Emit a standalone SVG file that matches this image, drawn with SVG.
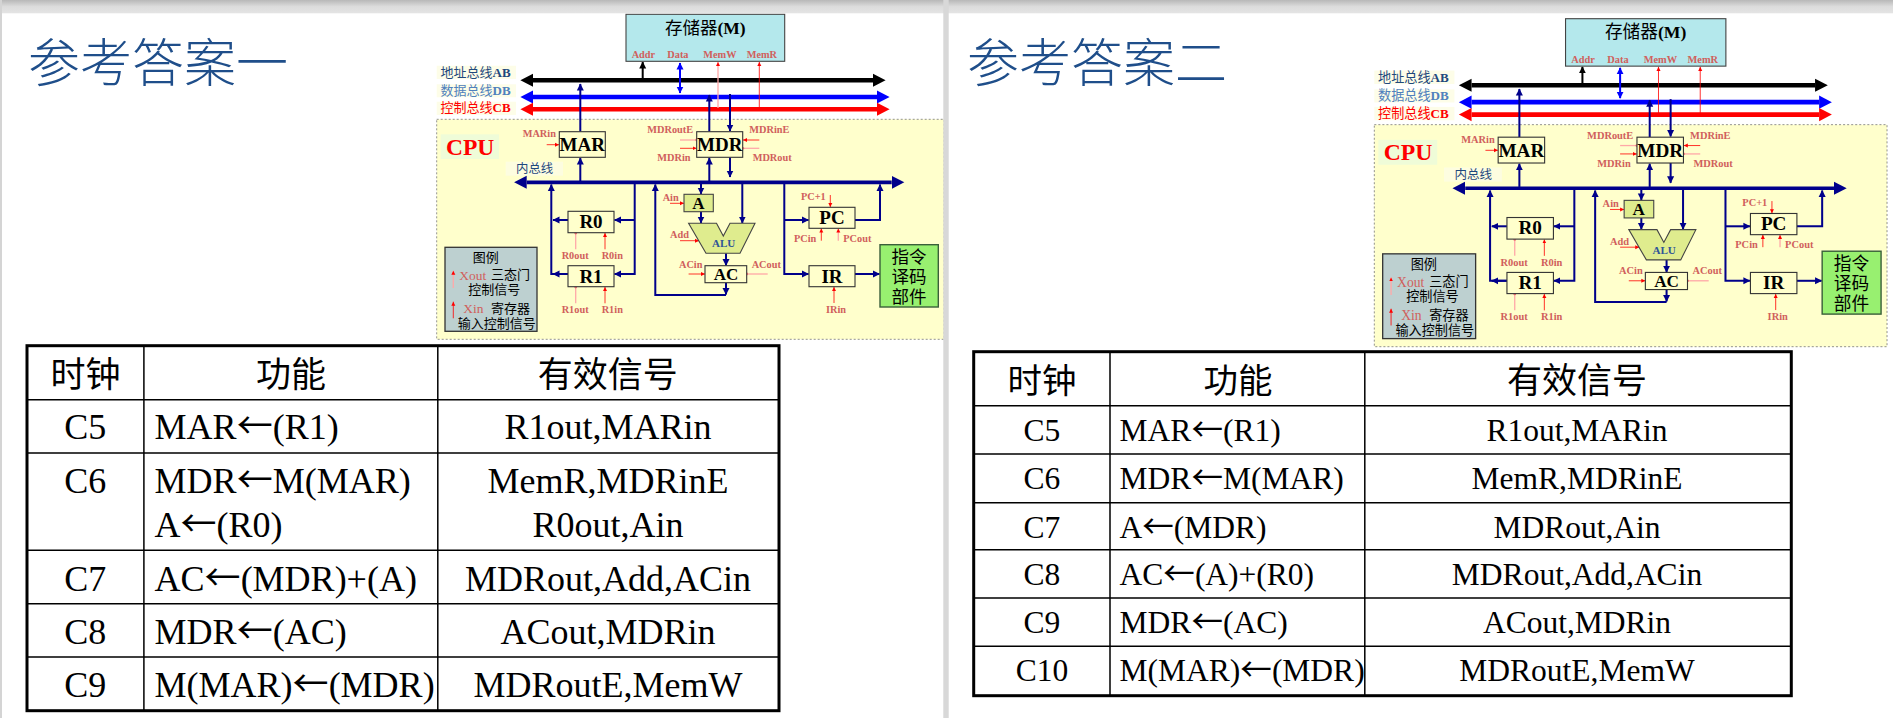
<svg xmlns="http://www.w3.org/2000/svg" width="1893" height="718" viewBox="0 0 1893 718">
<style>
text{font-family:"Liberation Serif","Noto Sans CJK SC",serif}
.cjk{font-family:"Noto Sans CJK SC",sans-serif}
.ar{font-family:"Noto Sans CJK SC",sans-serif}
.title{font-family:"Noto Sans CJK SC",sans-serif;font-size:52px;fill:#1f4e8a;font-weight:300}
.busl{font-size:13px;font-weight:700}
.busl .cjk{font-weight:400}
.sig{font-size:10.3px;font-weight:700;fill:#d0605c}
.reg{font-size:19px;font-weight:700;fill:#000;text-anchor:middle}
.reg2{font-size:17px}
.leg{font-size:13px;fill:#000;font-family:"Noto Sans CJK SC",sans-serif}
.legs{font-size:13.5px;fill:#d0605c}
.box{fill:#ffffcc;stroke:#333;stroke-width:1.1}
.green{fill:#dfec8e;stroke:#444;stroke-width:1.1}
.lab{stroke:none}
.n{fill:none;stroke:#00008b;stroke-width:2}
.r{fill:none;stroke:#f00;stroke-width:.8;marker-end:url(#hr)}
.p{fill:none;stroke:#ffa8a8;stroke-width:1.3;marker-start:url(#dot)}
.pu{fill:none;stroke:#ffa8a8;stroke-width:1.3;marker-end:url(#hr)}
.cell{font-size:36px;fill:#000}
.cell2{font-size:31.5px;fill:#000}
.mid{text-anchor:middle}
.head{font-family:"Noto Sans CJK SC",sans-serif;fill:#000;text-anchor:middle}
.tb{stroke:#000;stroke-width:1.5;fill:none}
.to{stroke:#000;stroke-width:3;fill:none}
</style>
<defs>
<marker id="hn" markerUnits="userSpaceOnUse" markerWidth="8" markerHeight="8" refX="6.5" refY="4" orient="auto-start-reverse"><path d="M0,.5 L7,4 L0,7.5 Z" fill="#00008b"/></marker>
<marker id="hk" markerUnits="userSpaceOnUse" markerWidth="8" markerHeight="8" refX="6.5" refY="4" orient="auto-start-reverse"><path d="M0,.5 L7,4 L0,7.5 Z" fill="#000"/></marker>
<marker id="hb" markerUnits="userSpaceOnUse" markerWidth="8" markerHeight="8" refX="6.5" refY="4" orient="auto-start-reverse"><path d="M0,.5 L7,4 L0,7.5 Z" fill="#00f"/></marker>
<marker id="hr" markerUnits="userSpaceOnUse" markerWidth="6" markerHeight="6" refX="4" refY="3" orient="auto"><path d="M0,1 L4,3 L0,5 Z" fill="#f00"/></marker>
<marker id="dot" markerUnits="userSpaceOnUse" markerWidth="4" markerHeight="4" refX="2" refY="2"><circle cx="2" cy="2" r="1.4" fill="#f07070"/></marker>
<marker id="bk" markerUnits="userSpaceOnUse" markerWidth="14" markerHeight="14" refX="0" refY="7" orient="auto-start-reverse"><path d="M0,.5 L12.6,7 L0,13.5 Z" fill="#000"/></marker>
<marker id="bb" markerUnits="userSpaceOnUse" markerWidth="14" markerHeight="14" refX="0" refY="7" orient="auto-start-reverse"><path d="M0,.5 L12.6,7 L0,13.5 Z" fill="#00f"/></marker>
<marker id="br" markerUnits="userSpaceOnUse" markerWidth="14" markerHeight="14" refX="0" refY="7" orient="auto-start-reverse"><path d="M0,.5 L12.6,7 L0,13.5 Z" fill="#f00"/></marker>
<marker id="bn" markerUnits="userSpaceOnUse" markerWidth="14" markerHeight="14" refX="0" refY="7" orient="auto-start-reverse"><path d="M0,.5 L12.6,7 L0,13.5 Z" fill="#00008b"/></marker>
<linearGradient id="band" x1="0" y1="0" x2="0" y2="1"><stop offset="0" stop-color="#b8b8b8"/><stop offset=".5" stop-color="#dcdcdc"/><stop offset="1" stop-color="#e4e4e4"/></linearGradient>
</defs>
<rect width="1893" height="718" fill="#fff"/>

<text class="title" x="28" y="82">参考答案一</text>
<text class="title" x="967" y="82">参考答案二</text>

<g id="panel1">
<rect id="p1-cpu-area" x="436.7" y="119.3" width="507.5" height="220" fill="#ffc" stroke="#777" stroke-width=".8" stroke-dasharray="2 2"/>
<g id="p1-labels">
<rect class="lab" x="436.7" y="65.7" width="79.3" height="13.3" fill="#fdfde8"/>
<rect class="lab" x="436.7" y="84.3" width="79.3" height="13" fill="#fdfde8"/>
<rect class="lab" x="436.7" y="101.7" width="79.3" height="13.3" fill="#fdfde8"/>
<text class="busl" x="440.5" y="76.7" fill="#1f497d"><tspan class="cjk">地址总线</tspan>AB</text>
<text class="busl" x="440.5" y="95" fill="#4f81bd"><tspan class="cjk">数据总线</tspan>DB</text>
<text class="busl" x="440.5" y="112.3" fill="#f00"><tspan class="cjk">控制总线</tspan>CB</text>
<rect class="lab" x="440.7" y="134.3" width="58.3" height="24.7" fill="#effcd8"/>
<text x="446" y="154.5" font-size="23.5" font-weight="700" fill="#f00">CPU</text>
<rect class="lab" x="505.7" y="161.7" width="57.3" height="14" fill="#fdfde0"/>
<text class="cjk" x="516" y="173" font-size="12.4" fill="#1f497d">内总线</text>
</g>
<g id="p1-connectors">
<line x1="533" y1="80.3" x2="873" y2="80.3" stroke="#000" stroke-width="4.4" marker-start="url(#bk)" marker-end="url(#bk)"/>
<line x1="533" y1="97" x2="877" y2="97" stroke="#00f" stroke-width="4.6" marker-start="url(#bb)" marker-end="url(#bb)"/>
<line x1="533" y1="109.3" x2="877" y2="109.3" stroke="#f00" stroke-width="4.6" marker-start="url(#br)" marker-end="url(#br)"/>
<line x1="526.7" y1="182.3" x2="891.7" y2="182.3" stroke="#00008b" stroke-width="3.7" marker-start="url(#bn)" marker-end="url(#bn)"/>
<line x1="642.7" y1="80" x2="642.7" y2="62" stroke="#000" stroke-width="2" marker-end="url(#hk)"/>
<line x1="680" y1="63" x2="680" y2="93" stroke="#00f" stroke-width="2" marker-start="url(#hb)" marker-end="url(#hb)"/>
<path class="pu" d="M718,108 V62"/>
<path class="r" d="M759.3,108 V62"/>
<path class="n" d="M580.3,131.7 V84" marker-end="url(#hn)"/>
<path class="n" d="M709.3,131.7 V95" marker-end="url(#hn)"/>
<path class="n" d="M730,94 V131" marker-end="url(#hn)"/>
<path class="n" d="M580.3,181 V158" marker-end="url(#hn)"/>
<path class="n" d="M709.3,181 V158" marker-end="url(#hn)"/>
<path class="n" d="M730,157.3 V177" marker-end="url(#hn)"/>
<path class="n" d="M568,220 H553" marker-end="url(#hn)"/>
<path class="n" d="M568,274 H553" marker-end="url(#hn)"/>
<path class="n" d="M568,274 H551.3 V184.5" marker-end="url(#hn)"/>
<path class="n" d="M634.7,184 V274 H614.5" marker-end="url(#hn)"/>
<path class="n" d="M634.7,220 H614.5" marker-end="url(#hn)"/>
<path class="n" d="M726,295 H655.3 V184.5" marker-end="url(#hn)"/>
<path class="n" d="M726,282.7 V294.5" marker-end="url(#hn)"/>
<path class="n" d="M701,184 V194" marker-end="url(#hn)"/>
<path class="n" d="M701,211.7 V223" marker-end="url(#hn)"/>
<path class="n" d="M742.3,184 V223" marker-end="url(#hn)"/>
<path class="n" d="M726,253.3 V265.5" marker-end="url(#hn)"/>
<path class="n" d="M784.3,184 V274 H808.5" marker-end="url(#hn)"/>
<path class="n" d="M784.3,220 H808.5" marker-end="url(#hn)"/>
<path class="n" d="M855,220 H880 V184.5" marker-end="url(#hn)"/>
<path class="n" d="M855,274 H879.5" marker-end="url(#hn)"/>
<path class="r" d="M546.7,144.7 H559"/>
<path class="p" d="M696.7,140 H680"/>
<path class="r" d="M680,148.3 H696.5"/>
<path class="r" d="M759.3,140 H743"/>
<path class="p" d="M742.7,148.3 H759.3"/>
<path class="p" d="M575.7,233 V249.3"/>
<path class="r" d="M605,249.3 V233"/>
<path class="p" d="M575.7,287 V303.3"/>
<path class="r" d="M605,303.3 V287"/>
<path class="r" d="M670,203.3 H684"/>
<path class="r" d="M680,240.7 H699"/>
<path class="r" d="M688.6,274 H705"/>
<path class="p" d="M746.7,274 H767.7"/>
<path class="r" d="M830.3,195 V207"/>
<path class="r" d="M821.3,240.7 V228.5"/>
<path class="pu" d="M838.3,240.7 V228.5"/>
<path class="r" d="M834,303 V287"/>
</g>
<g id="p1-memory">
<rect x="626" y="14.3" width="158.7" height="47" fill="#b4e8ec" stroke="#444" stroke-width="1.1"/>
<text x="665" y="33.5" font-size="17.5" font-weight="700" fill="#000"><tspan class="cjk" font-weight="400">存储器</tspan>(M)</text>
<text class="sig" x="631.7" y="58.3">Addr</text><text class="sig" x="667.3" y="58.3">Data</text><text class="sig" x="703.3" y="58.3">MemW</text><text class="sig" x="746.7" y="58.3">MemR</text>
</g>
<g id="p1-MAR"><rect class="box" x="559.3" y="131.7" width="46" height="25.6"/><text class="reg" x="582.3" y="151">MAR</text><text class="sig" x="522.7" y="137">MARin</text></g>
<g id="p1-MDR"><rect class="box" x="696.7" y="131.7" width="46" height="25.6"/><text class="reg" x="719.7" y="151">MDR</text><text class="sig" x="647.3" y="133.3">MDRoutE</text><text class="sig" x="657.3" y="161.3">MDRin</text><text class="sig" x="749.3" y="133.3">MDRinE</text><text class="sig" x="752.7" y="161.3">MDRout</text></g>
<g id="p1-R0"><rect class="box" x="568" y="211.3" width="46" height="21.4"/><text class="reg" x="591" y="228">R0</text><text class="sig" x="561.7" y="259">R0out</text><text class="sig" x="601.7" y="259">R0in</text></g>
<g id="p1-R1"><rect class="box" x="568" y="265.7" width="46" height="21"/><text class="reg" x="591" y="282.5">R1</text><text class="sig" x="561.7" y="313.3">R1out</text><text class="sig" x="601.7" y="313.3">R1in</text></g>
<g id="p1-A"><rect class="green" x="684" y="194.3" width="29.3" height="17.4"/><text class="reg reg2" x="698.5" y="208.5">A</text><text class="sig" x="662.7" y="200.7">Ain</text></g>
<g id="p1-ALU"><polygon class="green" points="688.6,223.3 716.5,223.3 723.3,236 730,223.3 755,223.3 740,253.3 706,253.3"/><text x="712" y="247.3" font-size="11" font-weight="700" fill="#2f5597">ALU</text><text class="sig" x="670" y="238.3">Add</text></g>
<g id="p1-AC"><rect class="box" x="705" y="265.7" width="41.7" height="17"/><text class="reg reg2" x="726" y="280.3">AC</text><text class="sig" x="679" y="267.7">ACin</text><text class="sig" x="751.7" y="267.7">ACout</text></g>
<g id="p1-PC"><rect class="box" x="809" y="207.3" width="46" height="21"/><text class="reg" x="832" y="223.8">PC</text><text class="sig" x="801" y="200">PC+1</text><text class="sig" x="794" y="241.7">PCin</text><text class="sig" x="843.3" y="241.7">PCout</text></g>
<g id="p1-IR"><rect class="box" x="809" y="265.7" width="46" height="21"/><text class="reg" x="832" y="282.5">IR</text><text class="sig" x="826" y="312.7">IRin</text></g>
<g id="p1-decoder"><rect x="880" y="244.7" width="58.3" height="62.3" fill="#98f070" stroke="#3a5f3a" stroke-width="1.4"/><text class="cjk mid" x="909" y="263.3" font-size="17.5">指令</text><text class="cjk mid" x="909" y="283.3" font-size="17.5">译码</text><text class="cjk mid" x="909" y="302.7" font-size="17.5">部件</text></g>
<g id="p1-legend"><rect x="445" y="247.3" width="92" height="84" fill="#bdd0d0" stroke="#333" stroke-width="1.3"/><text class="leg" x="472.7" y="262">图例</text><path class="pu" d="M453.3,288 V270.7"/><text class="legs" x="459.3" y="280">Xout</text><text class="leg" x="491" y="279">三态门</text><text class="leg" x="468.3" y="294">控制信号</text><path class="r" d="M453.3,318.3 V301.7"/><text class="legs" x="463.3" y="313.3">Xin</text><text class="leg" x="491" y="313">寄存器</text><text class="leg" x="457.7" y="327.7">输入控制信号</text></g>
</g>

<g id="separators">
<rect x="0" y="0" width="1893" height="13.3" fill="url(#band)"/>
<rect x="0" y="0" width="2" height="718" fill="#d4d4d4"/>
<rect x="943.3" y="0" width="5.4" height="718" fill="#d8d8d8"/>
</g>

<g id="panel2" transform="matrix(1.0103 0 0 1.0092 933.1 4.27)">
<rect id="p2-cpu-area" x="436.7" y="119.3" width="507.5" height="220" fill="#ffc" stroke="#777" stroke-width=".8" stroke-dasharray="2 2"/>
<g id="p2-labels">
<rect class="lab" x="436.7" y="65.7" width="79.3" height="13.3" fill="#fdfde8"/>
<rect class="lab" x="436.7" y="84.3" width="79.3" height="13" fill="#fdfde8"/>
<rect class="lab" x="436.7" y="101.7" width="79.3" height="13.3" fill="#fdfde8"/>
<text class="busl" x="440.5" y="76.7" fill="#1f497d"><tspan class="cjk">地址总线</tspan>AB</text>
<text class="busl" x="440.5" y="95" fill="#4f81bd"><tspan class="cjk">数据总线</tspan>DB</text>
<text class="busl" x="440.5" y="112.3" fill="#f00"><tspan class="cjk">控制总线</tspan>CB</text>
<rect class="lab" x="440.7" y="134.3" width="58.3" height="24.7" fill="#effcd8"/>
<text x="446" y="154.5" font-size="23.5" font-weight="700" fill="#f00">CPU</text>
<rect class="lab" x="505.7" y="161.7" width="57.3" height="14" fill="#fdfde0"/>
<text class="cjk" x="516" y="173" font-size="12.4" fill="#1f497d">内总线</text>
</g>
<g id="p2-connectors">
<line x1="533" y1="80.3" x2="873" y2="80.3" stroke="#000" stroke-width="4.4" marker-start="url(#bk)" marker-end="url(#bk)"/>
<line x1="533" y1="97" x2="877" y2="97" stroke="#00f" stroke-width="4.6" marker-start="url(#bb)" marker-end="url(#bb)"/>
<line x1="533" y1="109.3" x2="877" y2="109.3" stroke="#f00" stroke-width="4.6" marker-start="url(#br)" marker-end="url(#br)"/>
<line x1="526.7" y1="182.3" x2="891.7" y2="182.3" stroke="#00008b" stroke-width="3.7" marker-start="url(#bn)" marker-end="url(#bn)"/>
<line x1="642.7" y1="80" x2="642.7" y2="62" stroke="#000" stroke-width="2" marker-end="url(#hk)"/>
<line x1="680" y1="63" x2="680" y2="93" stroke="#00f" stroke-width="2" marker-start="url(#hb)" marker-end="url(#hb)"/>
<path class="r" d="M718,108 V62"/>
<path class="r" d="M759.3,108 V62"/>
<path class="n" d="M580.3,131.7 V84" marker-end="url(#hn)"/>
<path class="n" d="M709.3,131.7 V95" marker-end="url(#hn)"/>
<path class="n" d="M730,94 V131" marker-end="url(#hn)"/>
<path class="n" d="M580.3,181 V158" marker-end="url(#hn)"/>
<path class="n" d="M709.3,181 V158" marker-end="url(#hn)"/>
<path class="n" d="M730,157.3 V177" marker-end="url(#hn)"/>
<path class="n" d="M568,220 H553" marker-end="url(#hn)"/>
<path class="n" d="M568,274 H553" marker-end="url(#hn)"/>
<path class="n" d="M568,274 H551.3 V184.5" marker-end="url(#hn)"/>
<path class="n" d="M634.7,184 V274 H614.5" marker-end="url(#hn)"/>
<path class="n" d="M634.7,220 H614.5" marker-end="url(#hn)"/>
<path class="n" d="M726,295 H655.3 V184.5" marker-end="url(#hn)"/>
<path class="n" d="M726,282.7 V294.5" marker-end="url(#hn)"/>
<path class="n" d="M701,184 V194" marker-end="url(#hn)"/>
<path class="n" d="M701,211.7 V223" marker-end="url(#hn)"/>
<path class="n" d="M742.3,184 V223" marker-end="url(#hn)"/>
<path class="n" d="M726,253.3 V265.5" marker-end="url(#hn)"/>
<path class="n" d="M784.3,184 V274 H808.5" marker-end="url(#hn)"/>
<path class="n" d="M784.3,220 H808.5" marker-end="url(#hn)"/>
<path class="n" d="M855,220 H880 V184.5" marker-end="url(#hn)"/>
<path class="n" d="M855,274 H879.5" marker-end="url(#hn)"/>
<path class="r" d="M546.7,144.7 H559"/>
<path class="p" d="M696.7,140 H680"/>
<path class="r" d="M680,148.3 H696.5"/>
<path class="r" d="M759.3,140 H743"/>
<path class="p" d="M742.7,148.3 H759.3"/>
<path class="p" d="M575.7,233 V249.3"/>
<path class="r" d="M605,249.3 V233"/>
<path class="p" d="M575.7,287 V303.3"/>
<path class="r" d="M605,303.3 V287"/>
<path class="r" d="M670,203.3 H684"/>
<path class="r" d="M680,240.7 H699"/>
<path class="r" d="M688.6,274 H705"/>
<path class="p" d="M746.7,274 H767.7"/>
<path class="r" d="M830.3,195 V207"/>
<path class="r" d="M821.3,240.7 V228.5"/>
<path class="pu" d="M838.3,240.7 V228.5"/>
<path class="r" d="M834,303 V287"/>
</g>
<g id="p2-memory">
<rect x="626" y="14.3" width="158.7" height="47" fill="#b4e8ec" stroke="#444" stroke-width="1.1"/>
<text x="665" y="33.5" font-size="17.5" font-weight="700" fill="#000"><tspan class="cjk" font-weight="400">存储器</tspan>(M)</text>
<text class="sig" x="631.7" y="58.3">Addr</text><text class="sig" x="667.3" y="58.3">Data</text><text class="sig" x="703.3" y="58.3">MemW</text><text class="sig" x="746.7" y="58.3">MemR</text>
</g>
<g id="p2-MAR"><rect class="box" x="559.3" y="131.7" width="46" height="25.6"/><text class="reg" x="582.3" y="151">MAR</text><text class="sig" x="522.7" y="137">MARin</text></g>
<g id="p2-MDR"><rect class="box" x="696.7" y="131.7" width="46" height="25.6"/><text class="reg" x="719.7" y="151">MDR</text><text class="sig" x="647.3" y="133.3">MDRoutE</text><text class="sig" x="657.3" y="161.3">MDRin</text><text class="sig" x="749.3" y="133.3">MDRinE</text><text class="sig" x="752.7" y="161.3">MDRout</text></g>
<g id="p2-R0"><rect class="box" x="568" y="211.3" width="46" height="21.4"/><text class="reg" x="591" y="228">R0</text><text class="sig" x="561.7" y="259">R0out</text><text class="sig" x="601.7" y="259">R0in</text></g>
<g id="p2-R1"><rect class="box" x="568" y="265.7" width="46" height="21"/><text class="reg" x="591" y="282.5">R1</text><text class="sig" x="561.7" y="313.3">R1out</text><text class="sig" x="601.7" y="313.3">R1in</text></g>
<g id="p2-A"><rect class="green" x="684" y="194.3" width="29.3" height="17.4"/><text class="reg reg2" x="698.5" y="208.5">A</text><text class="sig" x="662.7" y="200.7">Ain</text></g>
<g id="p2-ALU"><polygon class="green" points="688.6,223.3 716.5,223.3 723.3,236 730,223.3 755,223.3 740,253.3 706,253.3"/><text x="712" y="247.3" font-size="11" font-weight="700" fill="#2f5597">ALU</text><text class="sig" x="670" y="238.3">Add</text></g>
<g id="p2-AC"><rect class="box" x="705" y="265.7" width="41.7" height="17"/><text class="reg reg2" x="726" y="280.3">AC</text><text class="sig" x="679" y="267.7">ACin</text><text class="sig" x="751.7" y="267.7">ACout</text></g>
<g id="p2-PC"><rect class="box" x="809" y="207.3" width="46" height="21"/><text class="reg" x="832" y="223.8">PC</text><text class="sig" x="801" y="200">PC+1</text><text class="sig" x="794" y="241.7">PCin</text><text class="sig" x="843.3" y="241.7">PCout</text></g>
<g id="p2-IR"><rect class="box" x="809" y="265.7" width="46" height="21"/><text class="reg" x="832" y="282.5">IR</text><text class="sig" x="826" y="312.7">IRin</text></g>
<g id="p2-decoder"><rect x="880" y="244.7" width="58.3" height="62.3" fill="#98f070" stroke="#3a5f3a" stroke-width="1.4"/><text class="cjk mid" x="909" y="263.3" font-size="17.5">指令</text><text class="cjk mid" x="909" y="283.3" font-size="17.5">译码</text><text class="cjk mid" x="909" y="302.7" font-size="17.5">部件</text></g>
<g id="p2-legend"><rect x="445" y="247.3" width="92" height="84" fill="#bdd0d0" stroke="#333" stroke-width="1.3"/><text class="leg" x="472.7" y="262">图例</text><path class="pu" d="M453.3,288 V270.7"/><text class="legs" x="459.3" y="280">Xout</text><text class="leg" x="491" y="279">三态门</text><text class="leg" x="468.3" y="294">控制信号</text><path class="r" d="M453.3,318.3 V301.7"/><text class="legs" x="463.3" y="313.3">Xin</text><text class="leg" x="491" y="313">寄存器</text><text class="leg" x="457.7" y="327.7">输入控制信号</text></g>
</g>

<g id="table1">
<rect class="to" x="27" y="345.7" width="752" height="365"/>
<path class="tb" d="M143.9,345.7 V710.7 M437.8,345.7 V710.7 M27,399.7 H779 M27,453 H779 M27,550.3 H779 M27,603.7 H779 M27,657 H779"/>
<text class="head" x="85.5" y="387" font-size="35">时钟</text><text class="head" x="291" y="387" font-size="35">功能</text><text class="head" x="607.7" y="387" font-size="35">有效信号</text>
<text class="cell mid" x="85.2" y="439.3">C5</text><text class="cell" x="154.6" y="439.3">MAR<tspan class="ar">←</tspan>(R1)</text><text class="cell mid" x="608" y="439.3">R1out,MARin</text>
<text class="cell mid" x="85.2" y="492.7">C6</text><text class="cell" x="154.6" y="492.7">MDR<tspan class="ar">←</tspan>M(MAR)</text><text class="cell mid" x="608" y="492.7">MemR,MDRinE</text>
<text class="cell" x="154.6" y="536.7">A<tspan class="ar">←</tspan>(R0)</text><text class="cell mid" x="608" y="536.7">R0out,Ain</text>
<text class="cell mid" x="85.2" y="590.7">C7</text><text class="cell" x="154.6" y="590.7">AC<tspan class="ar">←</tspan>(MDR)+(A)</text><text class="cell mid" x="608" y="590.7">MDRout,Add,ACin</text>
<text class="cell mid" x="85.2" y="643.7">C8</text><text class="cell" x="154.6" y="643.7">MDR<tspan class="ar">←</tspan>(AC)</text><text class="cell mid" x="608" y="643.7">ACout,MDRin</text>
<text class="cell mid" x="85.2" y="697.3">C9</text><text class="cell" x="154.6" y="697.3">M(MAR)<tspan class="ar">←</tspan>(MDR)</text><text class="cell mid" x="608" y="697.3">MDRoutE,MemW</text>
</g>

<g id="table2">
<rect class="to" x="973.7" y="351.7" width="817.6" height="344"/>
<path class="tb" d="M1110,351.7 V695.7 M1364.8,351.7 V695.7 M973.7,405.7 H1791.3 M973.7,454 H1791.3 M973.7,502.7 H1791.3 M973.7,549.7 H1791.3 M973.7,598 H1791.3 M973.7,646.3 H1791.3"/>
<text class="head" x="1041.9" y="393" font-size="34.5">时钟</text><text class="head" x="1238" y="393" font-size="34.5">功能</text><text class="head" x="1577" y="393" font-size="35">有效信号</text>
<text class="cell2 mid" x="1041.9" y="441">C5</text><text class="cell2" x="1119.6" y="441">MAR<tspan class="ar">←</tspan>(R1)</text><text class="cell2 mid" x="1577" y="441">R1out,MARin</text>
<text class="cell2 mid" x="1041.9" y="489">C6</text><text class="cell2" x="1119.6" y="489">MDR<tspan class="ar">←</tspan>M(MAR)</text><text class="cell2 mid" x="1577" y="489">MemR,MDRinE</text>
<text class="cell2 mid" x="1041.9" y="537.7">C7</text><text class="cell2" x="1119.6" y="537.7">A<tspan class="ar">←</tspan>(MDR)</text><text class="cell2 mid" x="1577" y="537.7">MDRout,Ain</text>
<text class="cell2 mid" x="1041.9" y="585">C8</text><text class="cell2" x="1119.6" y="585">AC<tspan class="ar">←</tspan>(A)+(R0)</text><text class="cell2 mid" x="1577" y="585">MDRout,Add,ACin</text>
<text class="cell2 mid" x="1041.9" y="633">C9</text><text class="cell2" x="1119.6" y="633">MDR<tspan class="ar">←</tspan>(AC)</text><text class="cell2 mid" x="1577" y="633">ACout,MDRin</text>
<text class="cell2 mid" x="1041.9" y="681">C10</text><text class="cell2" x="1119.6" y="681">M(MAR)<tspan class="ar">←</tspan>(MDR)</text><text class="cell2 mid" x="1577" y="681">MDRoutE,MemW</text>
</g>
</svg>
